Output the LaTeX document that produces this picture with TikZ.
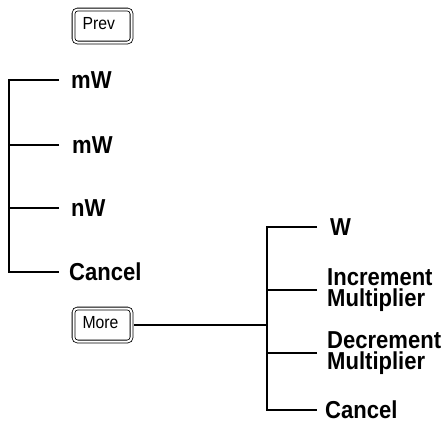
\documentclass[tikz,border=0pt]{standalone}
\usepackage{fontspec}
\newfontfamily\keyfont[FakeStretch=0.9]{Liberation Sans}
\newfontfamily\softfont[FakeStretch=0.9]{Liberation Sans}

\begin{document}
\begin{tikzpicture}[
    x=1pt, y=-1pt,
    hardkey/.style={draw, double, double distance=2pt, line width=0.8pt, rounded corners=4pt, minimum height=33pt, text width=40pt, inner xsep=9pt, inner ysep=0pt, align=left, text height=12.5pt, text depth=5.5pt, font=\keyfont\fontsize{17.5}{20}\selectfont},
    softkey/.style={anchor=west, inner sep=0pt, align=left, font=\softfont\bfseries\fontsize{24.5}{20.5}\selectfont},
    wire/.style={line width=1.4pt}
  ]
    \useasboundingbox (0,0) rectangle (447,424);
    % front panel keys
    \node[hardkey] (prev) at (102.5,26) {Prev};
    \node[hardkey] (more) at (102.5,325) {More};
    % first softkey menu
    \node[softkey] (mwa) at (71,80) {mW};
    \node[softkey] (mwb) at (72,145) {mW};
    \node[softkey] (nw) at (71,208) {nW};
    \node[softkey] (cancela) at (69,272) {Cancel};
    % second softkey menu
    \node[softkey] (w) at (330,227) {W};
    \node[softkey] (incr) at (327,290) {Increment\\Multiplier};
    \node[softkey] (decr) at (327,353) {Decrement\\Multiplier};
    \node[softkey] (cancelb) at (325,410) {Cancel};
    \coordinate (lspine) at (9,0);
    \coordinate (ltip) at (59,0);
    \coordinate (rspine) at (267,0);
    \coordinate (rtip) at (317,0);
    \draw[wire] (ltip |- mwa.west) -| (lspine |- cancela.west) -- (ltip |- cancela.west);
    \draw[wire] (ltip |- mwb.west) -- (lspine |- mwb.west);
    \draw[wire] (ltip |- nw.west) -- (lspine |- nw.west);
    \draw[wire] (rtip |- w.west) -| (rspine |- cancelb.west) -- (rtip |- cancelb.west);
    \draw[wire] (rtip |- incr.west) -- (rspine |- incr.west);
    \draw[wire] (rtip |- decr.west) -- (rspine |- decr.west);
    \draw[wire, shorten <=2.5pt] (more.east) -- (rspine |- more.east);
  \end{tikzpicture}
\end{document}
